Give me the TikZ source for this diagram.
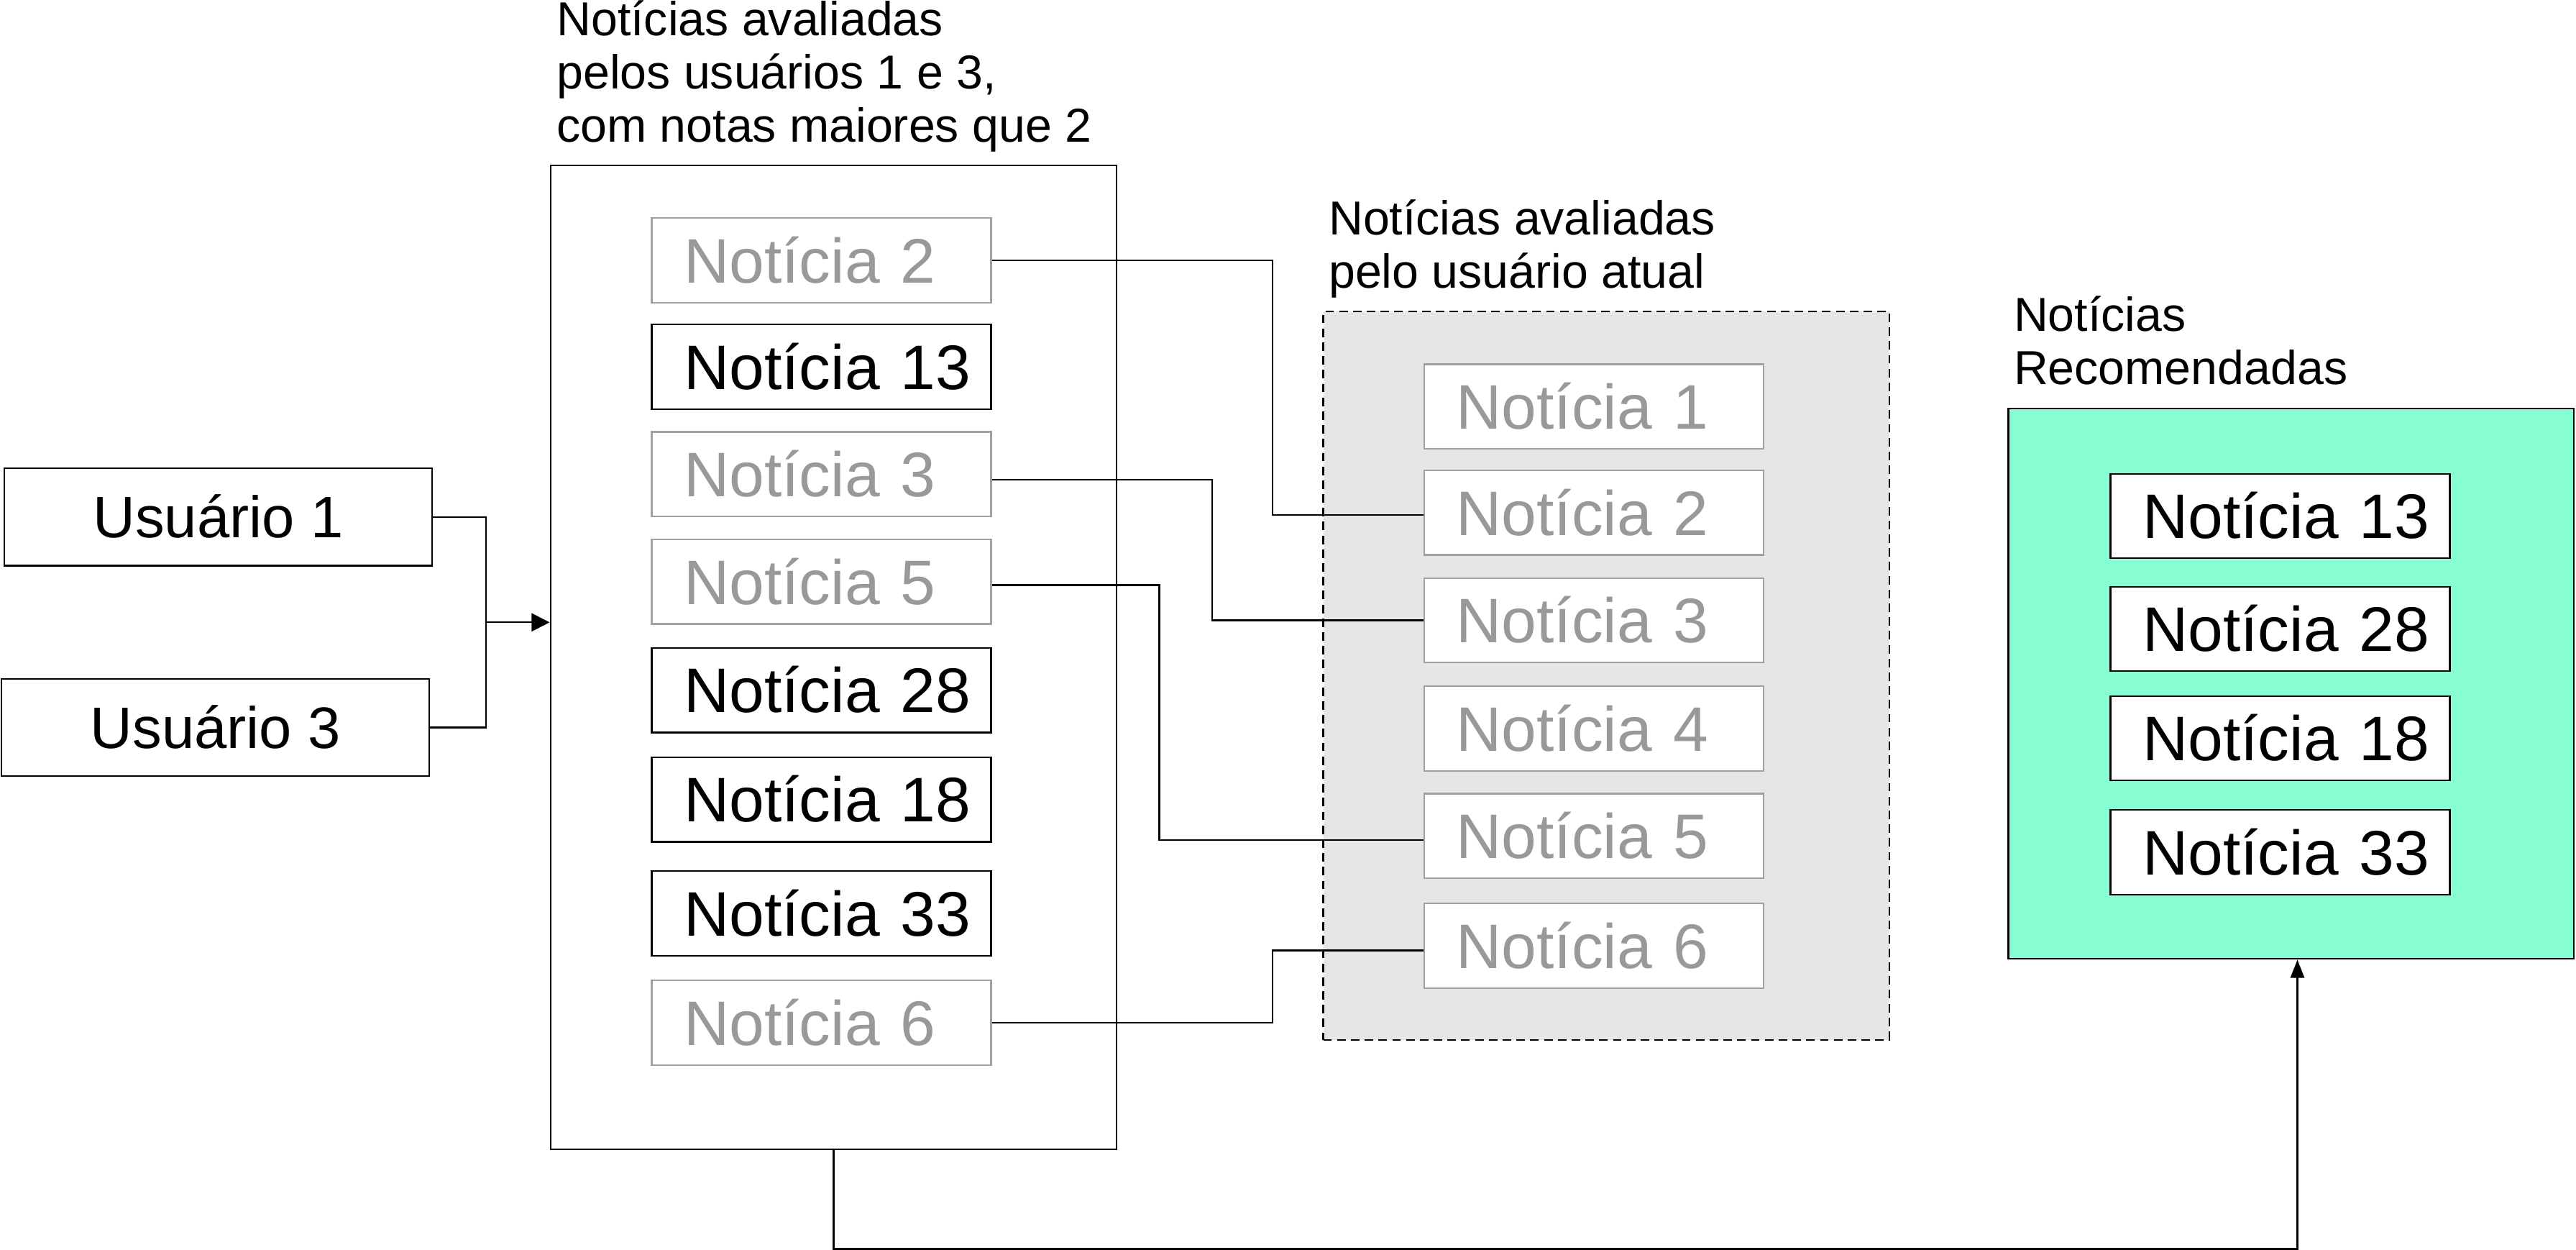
\documentclass[tikz,border=0pt]{standalone}
\usepackage{fontspec}
\setmainfont{Liberation Sans}
\usetikzlibrary{arrows.meta}
\definecolor{gtext}{RGB}{153,153,153}
\definecolor{gline}{RGB}{160,160,160}
\definecolor{gfill}{RGB}{230,230,230}
\definecolor{rgreen}{RGB}{136,255,211}
\tikzset{
  bigbox/.style={draw, line width=0.5pt, inner sep=0pt},
  nbox/.style={draw, line width=0.5pt, fill=white, inner sep=0pt, text width=103.25pt, align=left,
    minimum height=25.7pt, text height=13.7pt, text depth=0pt,
    font=\fontsize{19.15pt}{22pt}\selectfont, execute at begin node={\hspace*{9.8pt}}},
  nblack/.style={nbox, draw=black, text=black},
  ngray/.style={nbox, draw=gline, text=gtext},
  ubox/.style={draw, line width=0.5pt, inner sep=0pt, minimum width=130.2pt, minimum height=29.6pt,
    text height=12.7pt, text depth=0pt, font=\fontsize{17.8pt}{20pt}\selectfont},
  ttl/.style={inner sep=0pt, align=left, anchor=base west, font=\fontsize{14.5pt}{16.2pt}\selectfont},
  conn/.style={line width=0.5pt},
  arr/.style={line width=0.5pt, -{Triangle[length=5.5pt,width=5.5pt]}},
  arrb/.style={line width=0.5pt, -{Triangle[length=5.5pt,width=4.2pt]}}
}
\begin{document}
\begin{tikzpicture}[x=0.5pt, y=-0.5pt]
\useasboundingbox (0,0) rectangle (1568.1,760.6);
% containers
\node[bigbox, minimum width=172.35pt, minimum height=299.3pt] (big) at (507.45,400) {};
\node[bigbox, dashed, dash pattern=on 2.6pt off 1.6pt, fill=gfill, minimum width=172.25pt, minimum height=221.55pt] (cur) at (977.75,411.15) {};
\node[bigbox, line width=0.6pt, fill=rgreen, minimum width=172.2pt, minimum height=167.4pt] (rec) at (1394.6,416) {};
% titles
\node[ttl] (t1) at (338.5,86.5) {Notícias avaliadas\\pelos usuários 1 e 3,\\com notas maiores que 2};
\node[ttl] (t2) at (808.5,175.2) {Notícias avaliadas\\pelo usuário atual};
\node[ttl] (t3) at (1225.5,233.8) {Notícias\\Recomendadas};
% users
\node[ubox] (u1) at (132.8,314.6) {Usuário 1};
\node[ubox] (u3) at (131.2,442.7) {Usuário 3};
% left list
\node[ngray]  (l2)  at (500,158.4) {Notícia 2};
\node[nblack] (l13) at (500,223.2) {Notícia 13};
\node[ngray]  (l3)  at (500,288.5) {Notícia 3};
\node[ngray]  (l5)  at (500,354) {Notícia 5};
\node[nblack] (l28) at (500,420) {Notícia 28};
\node[nblack] (l18) at (500,486.5) {Notícia 18};
\node[nblack] (l33) at (500,555.8) {Notícia 33};
\node[ngray]  (l6)  at (500,622.3) {Notícia 6};
% current user list
\node[ngray] (r1) at (970.2,247.4) {Notícia 1};
\node[ngray] (r2) at (970.2,312) {Notícia 2};
\node[ngray] (r3) at (970.2,377.5) {Notícia 3};
\node[ngray] (r4) at (970.2,443.3) {Notícia 4};
\node[ngray] (r5) at (970.2,508.7) {Notícia 5};
\node[ngray] (r6) at (970.2,575.5) {Notícia 6};
% recommended list
\node[nblack] (g13) at (1388,314) {Notícia 13};
\node[nblack] (g28) at (1388,382.7) {Notícia 28};
\node[nblack] (g18) at (1388,449.2) {Notícia 18};
\node[nblack] (g33) at (1388,518.6) {Notícia 33};
% connectors
\draw[conn] (u1.east) -- ++(32.2,0) |- (u3.east);
\coordinate (j) at (295.2,378.7);
\draw[arr] (j) -- (j -| big.west);
\draw[conn] (l2.east) -- ++(171,0) |- ([yshift=-0.7pt]r2.west);
\draw[conn] ([yshift=-1.7pt]l3.east) -- ++(134,0) |- (r3.west);
\draw[conn] ([yshift=-1pt]l5.east) -- ++(102,0) |- ([yshift=-1.3pt]r5.west);
\draw[conn] (l6.east) -- ++(171,0) |- ([yshift=-1.4pt]r6.west);
\draw[arrb] (big.south) -- ++(0,60.2) -| ([xshift=1.95pt]rec.south);
\end{tikzpicture}
\end{document}
